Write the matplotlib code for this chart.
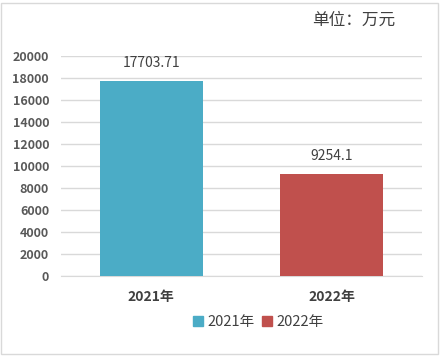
import matplotlib
matplotlib.use('Agg')
import matplotlib.pyplot as plt
from matplotlib.patches import Rectangle, Patch

plt.rcParams['font.family'] = ['Noto Sans CJK SC', 'DejaVu Sans']

categories = ['2021年', '2022年']
values = [17703.71, 9254.1]
value_labels = ['17703.71', '9254.1']
colors = ['#4BACC6', '#C0504D']
yticks = list(range(0, 20001, 2000))

fig = plt.figure(figsize=(4.42, 3.56), dpi=100)
fig.patches.append(Rectangle((0.003, 0.006), 0.988, 0.985, transform=fig.transFigure,
                             fill=False, edgecolor='#D9D9D9', linewidth=1))

ax = fig.add_axes([0.138, 0.2247, 0.817, 0.618])
x = list(range(len(categories)))
ax.bar(x, values, width=0.57, color=colors, zorder=3)
ax.set_xlim(-0.5, 1.5)
ax.set_ylim(0, 20000)
ax.set_yticks(yticks)
ax.set_yticklabels([str(t) for t in yticks], fontsize=9, fontweight='bold', color='#595959')
ax.set_xticks(x)
ax.set_xticklabels(categories, fontsize=10, fontweight='bold', color='#404040')
ax.tick_params(axis='both', length=0)
ax.tick_params(axis='y', pad=8.6)
ax.tick_params(axis='x', pad=10)
ax.grid(axis='y', color='#D9D9D9', linewidth=1, zorder=0)
for s in ['top', 'right', 'left']:
    ax.spines[s].set_visible(False)
ax.spines['bottom'].set_color('#D9D9D9')

for xi, v, lab in zip(x, values, value_labels):
    ax.annotate(lab, (xi, v), xytext=(0, 8), textcoords='offset points',
                ha='center', va='bottom', fontsize=10, color='#404040')

fig.text(0.80, 0.943, '单位：万元', fontsize=12, color='#404040', ha='center', va='center')

handles = [Patch(color=c) for c in colors]
fig.legend(handles, categories, loc='center', bbox_to_anchor=(0.584, 0.096), ncol=2,
           frameon=False, fontsize=10.5, handlelength=0.7, handleheight=0.7,
           handletextpad=0.3, columnspacing=0.5, labelcolor='#404040')

fig.savefig('out.png', dpi=100)
